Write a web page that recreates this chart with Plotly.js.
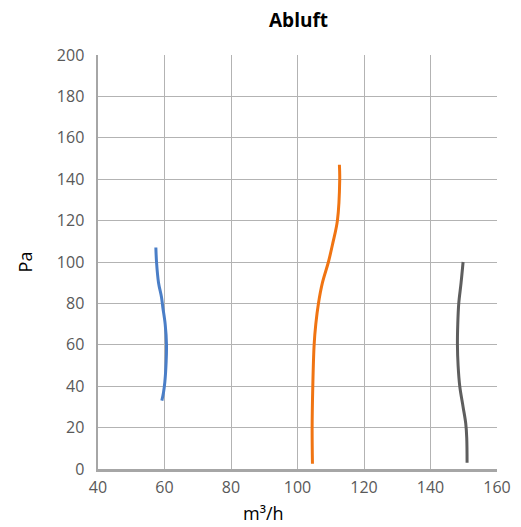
<!DOCTYPE html>
<html>
<head>
<meta charset="utf-8">
<script src="https://cdn.plot.ly/plotly-3.0.1.min.js"></script>
<style>html,body{margin:0;padding:0;background:#fff;}#chart{width:521px;height:527px;}</style>
</head>
<body>
<div id="chart"></div>
<script>
const blueX = [57.4, 57.6, 58.2, 59.1, 59.5, 60.2, 60.6, 60.5, 60.1, 59.7, 59.2];
const blueY = [107, 100, 90, 83, 78, 70, 60, 52, 42, 37, 33];
const orangeX = [112.6, 112.7, 112.0, 110.6, 109.3, 107.5, 106.3, 105.5, 105.0, 104.6, 104.4, 104.5];
const orangeY = [147, 140, 120, 109, 100, 90, 80, 70, 60, 40, 20, 2.5];
const grayX = [149.8, 149.2, 148.5, 148.2, 148.1, 148.3, 148.8, 149.8, 150.6, 150.9, 151.0];
const grayY = [100, 90, 80, 70, 60, 50, 40, 30, 22, 15, 3];
const xTicks = [40, 60, 80, 100, 120, 140, 160];
const yTicks = [0, 20, 40, 60, 80, 100, 120, 140, 160, 180, 200];

const mk = (x, y, c) => ({x, y, type: 'scatter', mode: 'lines',
  line: {color: c, width: 3, shape: 'spline', smoothing: 1}, hoverinfo: 'skip', showlegend: false});

const data = [
  mk(blueX, blueY, '#4A7EC7'),
  mk(orangeX, orangeY, '#F07412'),
  mk(grayX, grayY, '#5E5E5E')
];

const layout = {
  width: 521, height: 527,
  margin: {l: 98, r: 24, t: 55, b: 58},
  paper_bgcolor: '#fff', plot_bgcolor: '#fff',
  font: {family: 'Open Sans, sans-serif', color: '#595959', size: 16},
  title: {text: '<b>Abluft</b>', x: 0.573, xanchor: 'center', y: 0.962, yanchor: 'middle',
    font: {family: 'Open Sans, sans-serif', size: 19, color: '#000'}},
  xaxis: {
    range: [40, 160], tickvals: xTicks, ticktext: xTicks.map(String),
    showgrid: true, gridcolor: '#B3B3B3', gridwidth: 1,
    showline: true, linecolor: '#A6A6A6', linewidth: 2.5, mirror: false,
    zeroline: false, ticks: '', ticklen: 0, ticklabelstandoff: 2,
    tickfont: {size: 16, color: '#595959'}
  },
  yaxis: {
    range: [0, 200], tickvals: yTicks, ticktext: yTicks.map(String),
    showgrid: true, gridcolor: '#B3B3B3', gridwidth: 1,
    showline: true, linecolor: '#A6A6A6', linewidth: 2.5,
    zeroline: false, ticks: '', ticklen: 0, ticklabelstandoff: 8,
    tickfont: {size: 16, color: '#595959'},
    title: {text: 'Pa', font: {size: 18, color: '#000'}, standoff: 20}
  },
  annotations: [{
    text: 'm³/h', xref: 'paper', yref: 'paper', x: 0.414, y: -(513 - 469) / 414,
    xanchor: 'center', yanchor: 'middle', showarrow: false,
    font: {family: 'Open Sans, sans-serif', size: 18, color: '#000'}
  }]
};

Plotly.newPlot('chart', data, layout, {staticPlot: true, displayModeBar: false});
</script>
</body>
</html>
